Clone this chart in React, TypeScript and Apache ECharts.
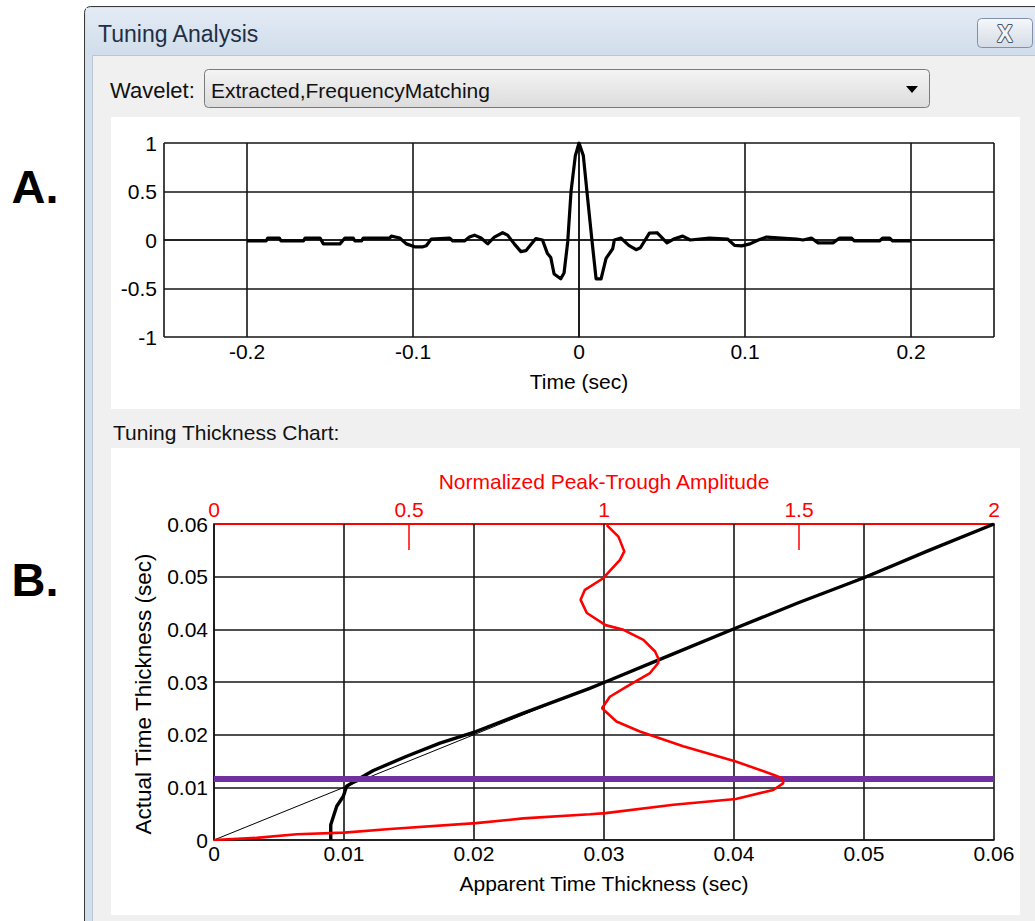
import React, { useEffect, useRef } from "react";
import * as echarts from "echarts";

// ---- Wavelet (A) ----
const waveTime = [
  -0.2, -0.1885, -0.1875, -0.1805, -0.1795, -0.166, -0.165, -0.156, -0.154, -0.144,
  -0.141, -0.136, -0.135, -0.131, -0.13, -0.114, -0.113, -0.108, -0.104, -0.099,
  -0.094, -0.092, -0.089, -0.078, -0.076, -0.069, -0.066, -0.063, -0.059, -0.055,
  -0.051, -0.046, -0.043, -0.039, -0.035, -0.032, -0.026, -0.022, -0.019, -0.017,
  -0.015, -0.011, -0.009, -0.0068, -0.0048, -0.0022, 0, 0.0026, 0.0052, 0.0079,
  0.0103, 0.0133, 0.0163, 0.0203, 0.0213, 0.0253, 0.03, 0.0344, 0.037, 0.0424,
  0.047, 0.053, 0.057, 0.0625, 0.067, 0.0786, 0.0895, 0.0937, 0.098, 0.103,
  0.108, 0.113, 0.131, 0.135, 0.14, 0.144, 0.153, 0.157, 0.164, 0.166,
  0.181, 0.183, 0.187, 0.189, 0.2,
];
const waveAmp = [
  -0.01, -0.01, 0.02, 0.02, -0.01, -0.01, 0.02, 0.02, -0.04, -0.04,
  0.02, 0.02, -0.01, -0.01, 0.02, 0.02, 0.04, 0.02, -0.04, -0.07,
  -0.07, -0.06, 0.01, 0.02, -0.01, -0.01, 0.03, 0.05, 0.02, -0.04,
  0.03, 0.075, 0.05, -0.04, -0.12, -0.11, 0.015, 0.0, -0.14, -0.18,
  -0.35, -0.4, -0.34, -0.02, 0.5, 0.87, 1.0, 0.87, 0.43, -0.02,
  -0.4, -0.4, -0.19, -0.09, 0.0, 0.02, -0.055, -0.1, -0.08, 0.07,
  0.075, -0.03, 0.01, 0.04, 0.0, 0.02, 0.01, -0.055, -0.06, -0.04,
  0.0, 0.03, 0.01, 0.0, 0.02, -0.03, -0.03, 0.02, 0.02, -0.01,
  -0.01, 0.02, 0.02, -0.01, -0.01,
];

// ---- Tuning thickness chart (B) ----
const diagApparent = [0, 0.06];
const diagActual = [0, 0.06];

const apparentThickness = [
  0.00898, 0.00898, 0.00944, 0.00995, 0.0102, 0.01098, 0.01226, 0.01482, 0.01738, 0.02015,
  0.0238, 0.0289, 0.0301, 0.035, 0.0401, 0.045, 0.05, 0.055, 0.06,
];
const apparentActual = [
  0, 0.0029, 0.0064, 0.0083, 0.0102, 0.0114, 0.0132, 0.0159, 0.0184, 0.0206,
  0.0241, 0.0288, 0.03, 0.035, 0.0402, 0.0451, 0.0498, 0.055, 0.06,
];

const amplitude = [
  0, 0.109, 0.212, 0.334, 0.451, 0.672, 0.793, 0.964, 1.004, 1.178,
  1.338, 1.434, 1.46, 1.455, 1.434, 1.338, 1.203, 1.092, 1.032, 0.995,
  1.015, 1.058, 1.118, 1.139, 1.139, 1.131, 1.101, 1.05, 1.004, 0.956,
  0.94, 0.951, 0.998, 1.041, 1.052, 1.037, 1.007,
];
const amplitudeActual = [
  0, 0.0004, 0.0011, 0.0014, 0.0021, 0.0032, 0.0041, 0.0049, 0.0051, 0.0067,
  0.0078, 0.0095, 0.0108, 0.0118, 0.0124, 0.0149, 0.0178, 0.0206, 0.0225, 0.025,
  0.0272, 0.0291, 0.0317, 0.0336, 0.0345, 0.0358, 0.038, 0.0399, 0.0408, 0.0431,
  0.0456, 0.0475, 0.0497, 0.0532, 0.0548, 0.0576, 0.0598,
];
const amplitudeTicks = [0, 0.5, 1, 1.5, 2];

const tuningThickness = 0.0116;
const tuningSpan = [0, 0.06];

const FONT = "'Liberation Sans', Arial, sans-serif";

function zip(a: number[], b: number[]) {
  return a.map((v, i) => [v, b[i]]);
}

export default function App() {
  const ref = useRef<HTMLDivElement>(null);

  useEffect(() => {
    if (!ref.current) return;
    const chart = echarts.init(ref.current, undefined, { renderer: "svg" });
    const grid = "#151515";
    const lg = (c1: string, c2: string) =>
      new echarts.graphic.LinearGradient(0, 0, 0, 1, [
        { offset: 0, color: c1 },
        { offset: 1, color: c2 },
      ]);
    const fs = 21;

    const option: any = {
      animation: false,
      backgroundColor: "#ffffff",
      textStyle: { fontFamily: FONT },
      graphic: {
        elements: [
          { type: "rect", z: -20, shape: { x: 84.5, y: 6.5, width: 1000, height: 1000, r: 6 }, style: { fill: "#d3dfed", stroke: "#3a3a3a", lineWidth: 1 } },
          { type: "rect", z: -19, shape: { x: 86, y: 8, width: 1000, height: 47 }, style: { fill: lg("#e3ebf5", "#d1ddeb") } },
          { type: "rect", z: -19, shape: { x: 92.5, y: 55.5, width: 1000, height: 1000 }, style: { fill: "#f0f0f0", stroke: "#b9c6d6", lineWidth: 1 } },
          { type: "text", z: -18, style: { text: "Tuning Analysis", x: 98, y: 34, fontSize: 23, fontFamily: FONT, fill: "#1f2f45", verticalAlign: "middle" } },
          { type: "rect", z: -18, shape: { x: 977.5, y: 18.5, width: 55, height: 29, r: 4 }, style: { fill: lg("#f5f7fa", "#d5dce6"), stroke: "#8090a6", lineWidth: 1 } },
          { type: "text", z: -17, style: { text: "X", x: 1005, y: 34, fontSize: 23, fontWeight: "bold", fontFamily: FONT, fill: "#f2f4f7", stroke: "#4a5566", lineWidth: 2, align: "center", verticalAlign: "middle" } },
          { type: "text", z: -18, style: { text: "Wavelet:", x: 110, y: 90, fontSize: 22, fontFamily: FONT, fill: "#111", verticalAlign: "middle" } },
          { type: "rect", z: -18, shape: { x: 204.5, y: 69.5, width: 725, height: 38, r: 4 }, style: { fill: lg("#f4f4f4", "#dcdcdc"), stroke: "#7a7a7a", lineWidth: 1 } },
          { type: "text", z: -17, style: { text: "Extracted,FrequencyMatching", x: 211, y: 90, fontSize: 21, fontFamily: FONT, fill: "#111", verticalAlign: "middle" } },
          { type: "polygon", z: -17, shape: { points: [[906, 86], [918, 86], [912, 93]] }, style: { fill: "#000" } },
          { type: "rect", z: -18, shape: { x: 111, y: 117, width: 909, height: 292 }, style: { fill: "#ffffff" } },
          { type: "text", z: -18, style: { text: "Tuning Thickness Chart:", x: 113, y: 432, fontSize: 21, fontFamily: FONT, fill: "#111", verticalAlign: "middle" } },
          { type: "rect", z: -18, shape: { x: 111, y: 448, width: 909, height: 467 }, style: { fill: "#ffffff" } },
          { type: "text", z: -18, style: { text: "A.", x: 35, y: 186, fontSize: 47, fontWeight: "bold", fontFamily: FONT, fill: "#000", align: "center", verticalAlign: "middle" } },
          { type: "text", z: -18, style: { text: "B.", x: 35, y: 579, fontSize: 47, fontWeight: "bold", fontFamily: FONT, fill: "#000", align: "center", verticalAlign: "middle" } },
        ],
      },
      grid: [
        { left: 164, top: 143, width: 830, height: 194 },
        { left: 214, top: 524, width: 780, height: 316 },
      ],
      xAxis: [
        {
          gridIndex: 0, type: "value", min: -0.25, max: 0.25, position: "bottom",
          axisLine: { show: true, lineStyle: { color: grid, width: 1.6 } },
          axisTick: { show: false },
          splitLine: { show: true, lineStyle: { color: grid, width: 1.6 } },
          axisLabel: { color: "#000", fontSize: fs, fontFamily: FONT, margin: 4, showMinLabel: false, showMaxLabel: false },
          name: "Time (sec)", nameLocation: "middle", nameGap: 34,
          nameTextStyle: { color: "#000", fontSize: fs, fontFamily: FONT },
        },
        {
          gridIndex: 1, type: "value", min: 0, max: 0.06, interval: 0.01, position: "bottom", z: 3,
          axisLine: { show: true, lineStyle: { color: grid, width: 1.6 } },
          axisTick: { show: false },
          splitLine: { show: true, lineStyle: { color: grid, width: 1.6 } },
          axisLabel: { color: "#000", fontSize: fs, fontFamily: FONT, margin: 3 },
          name: "Apparent Time Thickness (sec)", nameLocation: "middle", nameGap: 33,
          nameTextStyle: { color: "#000", fontSize: fs, fontFamily: FONT },
        },
        {
          gridIndex: 1, type: "value", min: 0, max: 2, interval: 0.5, position: "top", z: 2,
          axisLine: { show: true, lineStyle: { color: "#ff0000", width: 2 } },
          axisTick: {
            show: true, inside: true, length: 26,
            customValues: amplitudeTicks.filter((v) => v % 1 !== 0),
            lineStyle: { color: "#ff0000", width: 1.5 },
          },
          splitLine: { show: false },
          axisLabel: { color: "#ff0000", fontSize: fs, fontFamily: FONT, margin: 4 },
          name: "Normalized Peak-Trough Amplitude", nameLocation: "middle", nameGap: 32,
          nameTextStyle: { color: "#ff0000", fontSize: fs, fontFamily: FONT },
        },
      ],
      yAxis: [
        {
          gridIndex: 0, type: "value", min: -1, max: 1, interval: 0.5,
          axisLine: { show: true, lineStyle: { color: grid, width: 1.6 } },
          axisTick: { show: false },
          splitLine: { show: true, lineStyle: { color: grid, width: 1.6 } },
          axisLabel: { color: "#000", fontSize: fs, fontFamily: FONT, margin: 7 },
        },
        {
          gridIndex: 1, type: "value", min: 0, max: 0.06, interval: 0.01, z: 1,
          axisLine: { show: true, lineStyle: { color: grid, width: 1.6 } },
          axisTick: { show: false },
          splitLine: { show: true, lineStyle: { color: grid, width: 1.6 } },
          axisLabel: { color: "#000", fontSize: fs, fontFamily: FONT, margin: 6 },
          name: "Actual Time Thickness (sec)", nameLocation: "middle", nameRotate: 90, nameGap: 59,
          nameTextStyle: { color: "#000", fontSize: 22.5, fontFamily: FONT, padding: [0, 24, 0, 0] },
        },
      ],
      series: [
        {
          name: "Wavelet", type: "line", xAxisIndex: 0, yAxisIndex: 0, z: 5,
          data: zip(waveTime, waveAmp), symbol: "none", silent: true,
          lineStyle: { color: "#000", width: 3.2, join: "round" },
        },
        {
          name: "Diagonal", type: "line", xAxisIndex: 1, yAxisIndex: 1, z: 5,
          data: zip(diagApparent, diagActual), symbol: "none", silent: true,
          lineStyle: { color: "#000", width: 1 },
        },
        {
          name: "Apparent Thickness", type: "line", xAxisIndex: 1, yAxisIndex: 1, z: 6,
          data: zip(apparentThickness, apparentActual), symbol: "none", silent: true,
          lineStyle: { color: "#000", width: 3.4 },
        },
        {
          name: "Tuning Thickness", type: "line", xAxisIndex: 1, yAxisIndex: 1, z: 7,
          data: zip(tuningSpan, [tuningThickness, tuningThickness]), symbol: "none", silent: true,
          lineStyle: { color: "#7030a0", width: 6 },
        },
        {
          name: "Amplitude", type: "line", xAxisIndex: 2, yAxisIndex: 1, z: 8,
          data: zip(amplitude, amplitudeActual), symbol: "none", silent: true,
          lineStyle: { color: "#ff0000", width: 2.6 },
        },
      ],
    };

    chart.setOption(option);
    return () => chart.dispose();
  }, []);

  return (
    <div
      ref={ref}
      style={{ position: "absolute", left: 0, top: 0, width: 1035, height: 921 }}
    />
  );
}
